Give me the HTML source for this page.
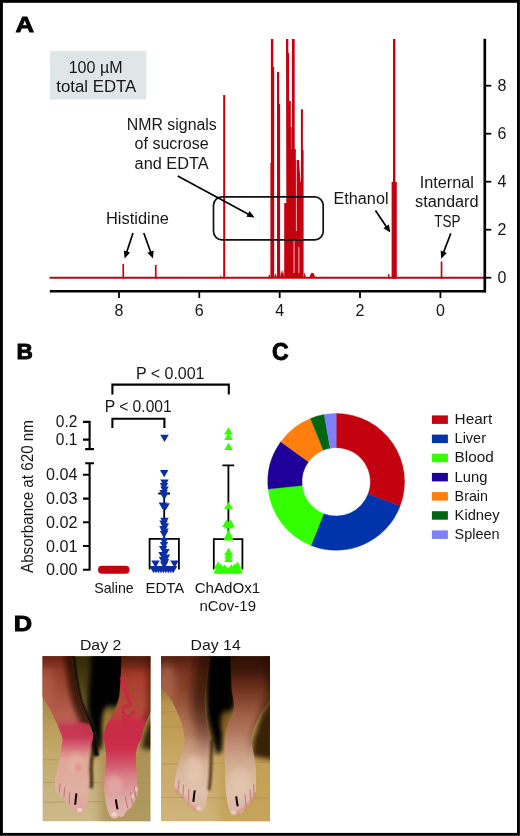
<!DOCTYPE html>
<html lang="en">
<head>
<meta charset="utf-8">
<title>Figure: EDTA in ChAdOx1 nCov-19 vaccine</title>
<style>
html,body{margin:0;padding:0;background:#fff;}
body{width:520px;height:836px;overflow:hidden;}
svg{display:block;font-family:'Liberation Sans', sans-serif;fill:#111;}
svg text{fill:#161616;}
</style>
</head>
<body>
<svg width="520" height="836" viewBox="0 0 520 836">
<rect x="0" y="0" width="520" height="836" fill="#fff"/>
<g opacity="0.999">
<text x="15.6" y="32.3" font-size="22.8" text-anchor="start" font-weight="bold" textLength="18.6" lengthAdjust="spacingAndGlyphs" stroke="#000" stroke-width="0.9" style="fill:#000">A</text>
<rect x="50" y="51" width="96.3" height="48.5" fill="#dfe6e8"/>
<text x="95.6" y="72.6" font-size="16" text-anchor="middle" font-weight="normal" textLength="53.8" lengthAdjust="spacingAndGlyphs">100 µM</text>
<text x="96.3" y="92.2" font-size="16" text-anchor="middle" font-weight="normal" textLength="80" lengthAdjust="spacingAndGlyphs">total EDTA</text>
<line x1="49.5" y1="277.7" x2="485" y2="277.7" stroke="#c4000f" stroke-width="1.9"/>
<rect x="122.4" y="264" width="1.70" height="14.50" fill="#c4000f"/>
<rect x="154.9" y="265" width="1.70" height="13.50" fill="#c4000f"/>
<rect x="223.2" y="95" width="2.00" height="183.50" fill="#c4000f"/>
<rect x="220.4" y="275.5" width="0.80" height="3.00" fill="#c4000f"/>
<polygon points="270.4,277.7 270.4,163 270.9,163 270.9,39 273.3,39 273.3,67 274.2,67 274.2,277.7" fill="#c4000f"/>
<polygon points="277.0,277.7 277.0,72 279.2,72 279.2,104 280.1,104 280.1,277.7" fill="#c4000f"/>
<polygon points="284.2,277.7 284.2,203 286.3,203 286.0,39 288.3,39 288.3,53 289.1,53 289.1,101 290.8,101 290.8,127 291.9,127 291.9,39 294.7,39 294.7,149 295.8,149 295.8,160 297.5,160 299.0,160 300.5,182 300.9,182 300.9,109.3 302.9,109.3 302.9,150 303.6,150 303.6,277.7" fill="#c4000f"/>
<rect x="295.9" y="160" width="0.9" height="71" fill="#fff" opacity="0.75"/>
<rect x="293.6" y="240" width="0.9" height="33" fill="#fff" opacity="0.8"/>
<rect x="298.4" y="247" width="0.9" height="26" fill="#fff" opacity="0.8"/>
<rect x="290.9" y="127" width="0.9" height="22" fill="#fff" opacity="0.35"/>
<polygon points="268,277.7 269.5,274 270.4,277.7" fill="#c4000f"/>
<polygon points="274.2,277.7 275.5,273 277,277.7" fill="#c4000f"/>
<polygon points="280.1,277.7 281,270 282,274 283,269.5 284.2,277.7" fill="#c4000f"/>
<polygon points="303.6,277.7 304.6,272 306,277.7" fill="#c4000f"/>
<polygon points="309.3,277.7 311,273.2 313.2,272.8 315.7,277.7" fill="#c4000f"/>
<rect x="393.0" y="39" width="2.40" height="239.50" fill="#c4000f"/>
<rect x="391.6" y="182" width="5.20" height="96.50" fill="#c4000f"/>
<rect x="388.0" y="274.3" width="1.50" height="4.20" fill="#c4000f"/>
<rect x="440.7" y="261.5" width="1.70" height="17.00" fill="#c4000f"/>
<rect x="213.5" y="196.8" width="109.7" height="43.1" rx="8.5" fill="none" stroke="#111" stroke-width="1.7"/>
<line x1="49.8" y1="291.2" x2="486" y2="291.2" stroke="#000" stroke-width="2.4"/>
<line x1="484.8" y1="38.8" x2="484.8" y2="292.4" stroke="#000" stroke-width="2.7"/>
<line x1="119.0" y1="291" x2="119.0" y2="298" stroke="#000" stroke-width="1.8"/>
<text x="119.0" y="316.4" font-size="16" text-anchor="middle" font-weight="normal">8</text>
<line x1="199.3" y1="291" x2="199.3" y2="298" stroke="#000" stroke-width="1.8"/>
<text x="199.3" y="316.4" font-size="16" text-anchor="middle" font-weight="normal">6</text>
<line x1="279.7" y1="291" x2="279.7" y2="298" stroke="#000" stroke-width="1.8"/>
<text x="279.7" y="316.4" font-size="16" text-anchor="middle" font-weight="normal">4</text>
<line x1="360.0" y1="291" x2="360.0" y2="298" stroke="#000" stroke-width="1.8"/>
<text x="360.0" y="316.4" font-size="16" text-anchor="middle" font-weight="normal">2</text>
<line x1="440.4" y1="291" x2="440.4" y2="298" stroke="#000" stroke-width="1.8"/>
<text x="440.4" y="316.4" font-size="16" text-anchor="middle" font-weight="normal">0</text>
<line x1="485" y1="277.7" x2="491.3" y2="277.7" stroke="#000" stroke-width="1.8"/>
<text x="502" y="283.3" font-size="16" text-anchor="middle" font-weight="normal">0</text>
<line x1="485" y1="229.7" x2="491.3" y2="229.7" stroke="#000" stroke-width="1.8"/>
<text x="502" y="235.3" font-size="16" text-anchor="middle" font-weight="normal">2</text>
<line x1="485" y1="181.7" x2="491.3" y2="181.7" stroke="#000" stroke-width="1.8"/>
<text x="502" y="187.3" font-size="16" text-anchor="middle" font-weight="normal">4</text>
<line x1="485" y1="133.7" x2="491.3" y2="133.7" stroke="#000" stroke-width="1.8"/>
<text x="502" y="139.3" font-size="16" text-anchor="middle" font-weight="normal">6</text>
<line x1="485" y1="85.7" x2="491.3" y2="85.7" stroke="#000" stroke-width="1.8"/>
<text x="502" y="91.3" font-size="16" text-anchor="middle" font-weight="normal">8</text>
<text x="171.8" y="129.8" font-size="16" text-anchor="middle" font-weight="normal" textLength="90" lengthAdjust="spacingAndGlyphs">NMR signals</text>
<text x="171.6" y="149.2" font-size="16" text-anchor="middle" font-weight="normal" textLength="74" lengthAdjust="spacingAndGlyphs">of sucrose</text>
<text x="171.6" y="168.6" font-size="16" text-anchor="middle" font-weight="normal" textLength="74" lengthAdjust="spacingAndGlyphs">and EDTA</text>
<line x1="177.7" y1="176.0" x2="248.9" y2="214.4" stroke="#000" stroke-width="1.7"/>
<polygon points="254.6,217.5 246.4,216.8 249.6,211.0" fill="#000"/>
<text x="137.5" y="224.4" font-size="16" text-anchor="middle" font-weight="normal" textLength="63" lengthAdjust="spacingAndGlyphs">Histidine</text>
<line x1="133.0" y1="233.0" x2="126.6" y2="252.4" stroke="#000" stroke-width="1.7"/>
<polygon points="124.6,258.6 123.8,250.4 130.1,252.5" fill="#000"/>
<line x1="143.8" y1="233.0" x2="150.8" y2="252.5" stroke="#000" stroke-width="1.7"/>
<polygon points="153.0,258.6 147.4,252.7 153.6,250.4" fill="#000"/>
<text x="361" y="204.2" font-size="16" text-anchor="middle" font-weight="normal" textLength="55" lengthAdjust="spacingAndGlyphs">Ethanol</text>
<line x1="375.5" y1="210.6" x2="386.7" y2="227.2" stroke="#000" stroke-width="1.7"/>
<polygon points="390.3,232.6 383.4,228.2 388.9,224.5" fill="#000"/>
<text x="446.8" y="187.7" font-size="16" text-anchor="middle" font-weight="normal" textLength="54.3" lengthAdjust="spacingAndGlyphs">Internal</text>
<text x="446.8" y="207" font-size="16" text-anchor="middle" font-weight="normal" textLength="63.5" lengthAdjust="spacingAndGlyphs">standard</text>
<text x="447.3" y="226.5" font-size="16" text-anchor="middle" font-weight="normal" textLength="26.3" lengthAdjust="spacingAndGlyphs">TSP</text>
<line x1="450.8" y1="233.4" x2="443.4" y2="252.7" stroke="#000" stroke-width="1.7"/>
<polygon points="441.1,258.8 440.7,250.6 446.9,253.0" fill="#000"/>
<text x="16.4" y="358.9" font-size="22.8" text-anchor="start" font-weight="bold" textLength="16.4" lengthAdjust="spacingAndGlyphs" stroke="#000" stroke-width="0.9" style="fill:#000">B</text>
<text transform="translate(33.2,573) rotate(-90)" font-size="16.5" text-anchor="start" textLength="153" lengthAdjust="spacingAndGlyphs">Absorbance at 620 nm</text>
<path d="M83 421.9H89.6V449.1M83 439.6H89.6M85.2 449.1H94" stroke="#000" stroke-width="2.1" fill="none"/>
<path d="M85.2 463.3H94M89.6 463.3V569.7M83 474.8H89.6M83 498.6H89.6M83 522.3H89.6M83 546H89.6M83 569.7H90.6" stroke="#000" stroke-width="2.1" fill="none"/>
<text x="77.4" y="427.2" font-size="16" text-anchor="end" font-weight="normal" textLength="21.6" lengthAdjust="spacingAndGlyphs">0.2</text>
<text x="77.4" y="445.2" font-size="16" text-anchor="end" font-weight="normal" textLength="21.6" lengthAdjust="spacingAndGlyphs">0.1</text>
<text x="77.4" y="480.4" font-size="16" text-anchor="end" font-weight="normal" textLength="31.4" lengthAdjust="spacingAndGlyphs">0.04</text>
<text x="77.4" y="504.1" font-size="16" text-anchor="end" font-weight="normal" textLength="31.4" lengthAdjust="spacingAndGlyphs">0.03</text>
<text x="77.4" y="527.8" font-size="16" text-anchor="end" font-weight="normal" textLength="31.4" lengthAdjust="spacingAndGlyphs">0.02</text>
<text x="77.4" y="551.6" font-size="16" text-anchor="end" font-weight="normal" textLength="31.4" lengthAdjust="spacingAndGlyphs">0.01</text>
<text x="77.4" y="575.3" font-size="16" text-anchor="end" font-weight="normal" textLength="31.4" lengthAdjust="spacingAndGlyphs">0.00</text>
<path d="M112.4 394.4V384.6H228.8V394.4" stroke="#000" stroke-width="2.1" fill="none"/>
<path d="M112.4 428V418.7H164.4V428" stroke="#000" stroke-width="2.1" fill="none"/>
<text x="170.2" y="379" font-size="16" text-anchor="middle" font-weight="normal" textLength="68.6" lengthAdjust="spacingAndGlyphs">P &lt; 0.001</text>
<text x="138.2" y="411.5" font-size="16" text-anchor="middle" font-weight="normal" textLength="67" lengthAdjust="spacingAndGlyphs">P &lt; 0.001</text>
<rect x="98" y="565.7" width="31.6" height="8" rx="4" fill="#c4000f"/>
<path d="M149.6 569.4V538.8H178.9V569.4M164.2 538.8V493.5M158.3 493.5H170" stroke="#000" stroke-width="1.8" fill="none"/>
<polygon points="160.2,434.8 168.8,434.8 164.5,442.1" fill="#0a2ea6"/>
<polygon points="159.9,470.0 168.4,470.0 164.2,477.3" fill="#0a2ea6"/>
<polygon points="160.2,479.4 168.7,479.4 164.4,486.7" fill="#0a2ea6"/>
<polygon points="159.8,483.0 168.2,483.0 164.0,490.3" fill="#0a2ea6"/>
<polygon points="160.3,486.6 168.8,486.6 164.6,493.9" fill="#0a2ea6"/>
<polygon points="159.3,490.0 167.8,490.0 163.6,497.3" fill="#0a2ea6"/>
<polygon points="159.9,492.7 168.4,492.7 164.2,500.0" fill="#0a2ea6"/>
<polygon points="158.6,502.5 167.1,502.5 162.8,509.8" fill="#0a2ea6"/>
<polygon points="161.3,503.2 169.8,503.2 165.6,510.5" fill="#0a2ea6"/>
<polygon points="160.2,517.8 168.7,517.8 164.4,525.1" fill="#0a2ea6"/>
<polygon points="159.3,520.6 167.8,520.6 163.6,527.9" fill="#0a2ea6"/>
<polygon points="160.6,523.2 169.1,523.2 164.8,530.5" fill="#0a2ea6"/>
<polygon points="159.2,526.0 167.7,526.0 163.4,533.3" fill="#0a2ea6"/>
<polygon points="160.3,528.4 168.8,528.4 164.6,535.7" fill="#0a2ea6"/>
<polygon points="159.8,531.0 168.2,531.0 164.0,538.3" fill="#0a2ea6"/>
<polygon points="159.9,538.0 168.4,538.0 164.2,545.3" fill="#0a2ea6"/>
<polygon points="159.8,542.0 168.2,542.0 164.0,549.3" fill="#0a2ea6"/>
<polygon points="158.9,546.0 167.4,546.0 163.2,553.3" fill="#0a2ea6"/>
<polygon points="161.2,549.0 169.7,549.0 165.4,556.3" fill="#0a2ea6"/>
<polygon points="158.3,552.0 166.8,552.0 162.6,559.3" fill="#0a2ea6"/>
<polygon points="161.8,554.5 170.2,554.5 166.0,561.8" fill="#0a2ea6"/>
<polygon points="158.8,557.0 167.2,557.0 163.0,564.3" fill="#0a2ea6"/>
<polygon points="160.8,559.0 169.2,559.0 165.0,566.3" fill="#0a2ea6"/>
<polygon points="151.3,560.4 159.8,560.4 155.6,567.7" fill="#0a2ea6"/>
<polygon points="159.9,561.5 168.4,561.5 164.2,568.8" fill="#0a2ea6"/>
<polygon points="170.3,560.4 178.8,560.4 174.6,567.7" fill="#0a2ea6"/>
<polygon points="149.3,566.0 157.8,566.0 153.6,573.3" fill="#0a2ea6"/>
<polygon points="151.8,566.0 160.3,566.0 156.0,573.3" fill="#0a2ea6"/>
<polygon points="154.2,566.0 162.7,566.0 158.5,573.3" fill="#0a2ea6"/>
<polygon points="156.7,566.0 165.2,566.0 160.9,573.3" fill="#0a2ea6"/>
<polygon points="159.1,566.0 167.6,566.0 163.4,573.3" fill="#0a2ea6"/>
<polygon points="161.6,566.0 170.1,566.0 165.8,573.3" fill="#0a2ea6"/>
<polygon points="164.0,566.0 172.5,566.0 168.3,573.3" fill="#0a2ea6"/>
<polygon points="166.5,566.0 175.0,566.0 170.7,573.3" fill="#0a2ea6"/>
<polygon points="168.9,566.0 177.4,566.0 173.2,573.3" fill="#0a2ea6"/>
<path d="M213.8 569.4V539.2H242.4V569.4M228.4 539.2V465.3M222.4 465.3H234.2" stroke="#000" stroke-width="1.8" fill="none"/>
<polygon points="224.2,434.6 232.8,434.6 228.5,427.3" fill="#33ff00"/>
<polygon points="224.2,440.1 232.8,440.1 228.5,432.8" fill="#33ff00"/>
<polygon points="224.2,450.1 232.8,450.1 228.5,442.8" fill="#33ff00"/>
<polygon points="224.2,509.1 232.8,509.1 228.5,501.8" fill="#33ff00"/>
<polygon points="222.2,526.9 230.7,526.9 226.4,519.6" fill="#33ff00"/>
<polygon points="226.3,526.9 234.8,526.9 230.6,519.6" fill="#33ff00"/>
<polygon points="224.2,528.5 232.8,528.5 228.5,521.2" fill="#33ff00"/>
<polygon points="224.2,555.0 232.8,555.0 228.5,547.7" fill="#33ff00"/>
<polygon points="224.2,558.5 232.8,558.5 228.5,551.2" fill="#33ff00"/>
<polygon points="224.2,562.1 232.8,562.1 228.5,554.8" fill="#33ff00"/>
<polygon points="213.8,568.8 222.2,568.8 218.0,561.5" fill="#33ff00"/>
<polygon points="233.2,568.8 241.7,568.8 237.4,561.5" fill="#33ff00"/>
<polygon points="216.8,570.7 225.2,570.7 221.0,563.4" fill="#33ff00"/>
<polygon points="230.3,570.7 238.8,570.7 234.6,563.4" fill="#33ff00"/>
<polygon points="220.2,571.5 228.8,571.5 224.5,564.2" fill="#33ff00"/>
<polygon points="227.2,571.5 235.8,571.5 231.5,564.2" fill="#33ff00"/>
<polygon points="223.3,540.6 233.7,540.6 228.5,529.2" fill="#33ff00"/>
<polygon points="213.3,573.5 221.8,573.5 217.6,566.2" fill="#33ff00"/>
<polygon points="215.7,573.5 224.2,573.5 219.9,566.2" fill="#33ff00"/>
<polygon points="218.0,573.5 226.5,573.5 222.3,566.2" fill="#33ff00"/>
<polygon points="220.4,573.5 228.9,573.5 224.6,566.2" fill="#33ff00"/>
<polygon points="222.7,573.5 231.2,573.5 227.0,566.2" fill="#33ff00"/>
<polygon points="225.1,573.5 233.6,573.5 229.3,566.2" fill="#33ff00"/>
<polygon points="227.4,573.5 235.9,573.5 231.7,566.2" fill="#33ff00"/>
<polygon points="229.8,573.5 238.3,573.5 234.0,566.2" fill="#33ff00"/>
<polygon points="232.1,573.5 240.6,573.5 236.4,566.2" fill="#33ff00"/>
<polygon points="234.5,573.5 243.0,573.5 238.7,566.2" fill="#33ff00"/>
<text x="114" y="592.6" font-size="15" text-anchor="middle" font-weight="normal" textLength="39.6" lengthAdjust="spacingAndGlyphs">Saline</text>
<text x="164.9" y="592.6" font-size="15" text-anchor="middle" font-weight="normal" textLength="39" lengthAdjust="spacingAndGlyphs">EDTA</text>
<text x="227.5" y="592.6" font-size="15" text-anchor="middle" font-weight="normal" textLength="65.6" lengthAdjust="spacingAndGlyphs">ChAdOx1</text>
<text x="227.7" y="610.9" font-size="15" text-anchor="middle" font-weight="normal" textLength="56.6" lengthAdjust="spacingAndGlyphs">nCov-19</text>
<text x="272" y="360.2" font-size="23.6" text-anchor="start" font-weight="bold" textLength="16.6" lengthAdjust="spacingAndGlyphs" stroke="#000" stroke-width="0.9" style="fill:#000">C</text>
<path d="M336.15 413.45A68.4 68.4 0 0 1 400.01 506.36L368.08 494.11A34.2 34.2 0 0 0 336.15 447.65Z" fill="#c4000f" stroke="#c4000f" stroke-width="0.4"/>
<path d="M400.01 506.36A68.4 68.4 0 0 1 310.97 545.45L323.56 513.65A34.2 34.2 0 0 0 368.08 494.11Z" fill="#0033aa" stroke="#0033aa" stroke-width="0.4"/>
<path d="M310.97 545.45A68.4 68.4 0 0 1 268.12 489.00L302.14 485.42A34.2 34.2 0 0 0 323.56 513.65Z" fill="#33ff00" stroke="#33ff00" stroke-width="0.4"/>
<path d="M268.12 489.00A68.4 68.4 0 0 1 280.81 441.65L308.48 461.75A34.2 34.2 0 0 0 302.14 485.42Z" fill="#1f0099" stroke="#1f0099" stroke-width="0.4"/>
<path d="M280.81 441.65A68.4 68.4 0 0 1 310.53 418.43L323.34 450.14A34.2 34.2 0 0 0 308.48 461.75Z" fill="#ff7f0e" stroke="#ff7f0e" stroke-width="0.4"/>
<path d="M310.53 418.43A68.4 68.4 0 0 1 324.27 414.49L330.21 448.17A34.2 34.2 0 0 0 323.34 450.14Z" fill="#006611" stroke="#006611" stroke-width="0.4"/>
<path d="M324.27 414.49A68.4 68.4 0 0 1 336.15 413.45L336.15 447.65A34.2 34.2 0 0 0 330.21 448.17Z" fill="#8080ff" stroke="#8080ff" stroke-width="0.4"/>
<rect x="431.9" y="415.4" width="16" height="8.5" fill="#c4000f"/>
<text x="454.6" y="424.0" font-size="15" text-anchor="start" font-weight="normal" textLength="37.6" lengthAdjust="spacingAndGlyphs">Heart</text>
<rect x="431.9" y="434.6" width="16" height="8.5" fill="#0033aa"/>
<text x="454.6" y="443.2" font-size="15" text-anchor="start" font-weight="normal" textLength="31.4" lengthAdjust="spacingAndGlyphs">Liver</text>
<rect x="431.9" y="453.7" width="16" height="8.5" fill="#33ff00"/>
<text x="454.6" y="462.3" font-size="15" text-anchor="start" font-weight="normal" textLength="39.2" lengthAdjust="spacingAndGlyphs">Blood</text>
<rect x="431.9" y="472.9" width="16" height="8.5" fill="#1f0099"/>
<text x="454.6" y="481.5" font-size="15" text-anchor="start" font-weight="normal" textLength="32.8" lengthAdjust="spacingAndGlyphs">Lung</text>
<rect x="431.9" y="492.1" width="16" height="8.5" fill="#ff7f0e"/>
<text x="454.6" y="500.7" font-size="15" text-anchor="start" font-weight="normal" textLength="33.4" lengthAdjust="spacingAndGlyphs">Brain</text>
<rect x="431.9" y="511.2" width="16" height="8.5" fill="#006611"/>
<text x="454.6" y="519.9" font-size="15" text-anchor="start" font-weight="normal" textLength="44.9" lengthAdjust="spacingAndGlyphs">Kidney</text>
<rect x="431.9" y="530.4" width="16" height="8.5" fill="#8080ff"/>
<text x="454.6" y="539.0" font-size="15" text-anchor="start" font-weight="normal" textLength="44.9" lengthAdjust="spacingAndGlyphs">Spleen</text>
<text x="13.8" y="630.6" font-size="22.8" text-anchor="start" font-weight="bold" textLength="18.4" lengthAdjust="spacingAndGlyphs" stroke="#000" stroke-width="0.9" style="fill:#000">D</text>
<text x="100.6" y="650" font-size="15.5" text-anchor="middle" font-weight="normal" textLength="41.4" lengthAdjust="spacingAndGlyphs">Day 2</text>
<text x="215.6" y="649.6" font-size="15.5" text-anchor="middle" font-weight="normal" textLength="50.2" lengthAdjust="spacingAndGlyphs">Day 14</text>
<defs>
<clipPath id="cp1"><rect x="0" y="0" width="107.8" height="165"/></clipPath>
<clipPath id="cp2"><rect x="0" y="0" width="109" height="165"/></clipPath>
<filter id="b0" filterUnits="userSpaceOnUse" x="-40" y="-40" width="200" height="260"><feGaussianBlur stdDeviation="0.7"/></filter>
<filter id="b1" filterUnits="userSpaceOnUse" x="-40" y="-40" width="200" height="260"><feGaussianBlur stdDeviation="1.2"/></filter>
<filter id="b2" filterUnits="userSpaceOnUse" x="-40" y="-40" width="200" height="260"><feGaussianBlur stdDeviation="2.4"/></filter>
<filter id="b4" filterUnits="userSpaceOnUse" x="-40" y="-40" width="200" height="260"><feGaussianBlur stdDeviation="4"/></filter>
<filter id="b7" filterUnits="userSpaceOnUse" x="-40" y="-40" width="200" height="260"><feGaussianBlur stdDeviation="7"/></filter>
<linearGradient id="fl1" x1="0" y1="0" x2="0" y2="1"><stop offset="0" stop-color="#46340e"/><stop offset="0.2" stop-color="#806628"/><stop offset="0.3" stop-color="#a88c48"/><stop offset="0.42" stop-color="#b89c58"/><stop offset="0.6" stop-color="#c4aa6c"/><stop offset="0.8" stop-color="#c8b480"/><stop offset="1" stop-color="#ccba8c"/></linearGradient>
<linearGradient id="fl2" x1="0" y1="0" x2="0" y2="1"><stop offset="0" stop-color="#5a3c10"/><stop offset="0.18" stop-color="#90692a"/><stop offset="0.3" stop-color="#b8944c"/><stop offset="0.5" stop-color="#c4a058"/><stop offset="0.62" stop-color="#caa968"/><stop offset="1" stop-color="#d0b47c"/></linearGradient>
<linearGradient id="lg1" x1="0" y1="0" x2="0" y2="1"><stop offset="0" stop-color="#8a3022"/><stop offset="0.4" stop-color="#a04a34"/><stop offset="0.7" stop-color="#b86050"/><stop offset="0.85" stop-color="#c04a58"/><stop offset="1" stop-color="#c83552"/></linearGradient>
<linearGradient id="lg1r" x1="0" y1="0" x2="0" y2="1"><stop offset="0" stop-color="#7a281a"/><stop offset="0.3" stop-color="#a83c2a"/><stop offset="0.62" stop-color="#b44a38"/><stop offset="0.8" stop-color="#c43a48"/><stop offset="1" stop-color="#cc2c48"/></linearGradient>
<linearGradient id="ft1" x1="0" y1="0" x2="0" y2="1">
 <stop offset="0" stop-color="#cf3f5a"/><stop offset="0.13" stop-color="#d8727c"/>
 <stop offset="0.3" stop-color="#dfa698"/><stop offset="0.7" stop-color="#e0b0a2"/><stop offset="1" stop-color="#dca89c"/></linearGradient>
<linearGradient id="ft1r" x1="0" y1="0" x2="0" y2="1">
 <stop offset="0" stop-color="#cc2a48"/><stop offset="0.25" stop-color="#d2566a"/>
 <stop offset="0.5" stop-color="#d88488"/><stop offset="0.75" stop-color="#dea8a2"/><stop offset="1" stop-color="#e2b8b0"/></linearGradient>
<linearGradient id="lg2" x1="0" y1="0" x2="0" y2="1"><stop offset="0" stop-color="#6a2816"/><stop offset="0.4" stop-color="#8a422a"/><stop offset="0.75" stop-color="#ac6e52"/><stop offset="1" stop-color="#be8a6e"/></linearGradient>
<linearGradient id="lg2r" x1="0" y1="0" x2="0" y2="1"><stop offset="0" stop-color="#3c1409"/><stop offset="0.4" stop-color="#6e301c"/><stop offset="0.7" stop-color="#a06048"/><stop offset="1" stop-color="#bc866c"/></linearGradient>
<linearGradient id="ft2r" x1="0" y1="0" x2="0" y2="1"><stop offset="0" stop-color="#b87f66"/><stop offset="0.12" stop-color="#c29078"/><stop offset="0.34" stop-color="#d2ac90"/><stop offset="0.7" stop-color="#dfc2ac"/><stop offset="1" stop-color="#dcb4a6"/></linearGradient>
<linearGradient id="ft2" x1="0" y1="0" x2="0" y2="1"><stop offset="0" stop-color="#bc866c"/><stop offset="0.12" stop-color="#c6967c"/><stop offset="0.32" stop-color="#d4ae92"/><stop offset="0.7" stop-color="#dfc2ac"/><stop offset="1" stop-color="#dcb4a6"/></linearGradient>
<linearGradient id="rsL" gradientUnits="userSpaceOnUse" x1="0" y1="64" x2="0" y2="96">
 <stop offset="0" stop-color="#c63652" stop-opacity="0.95"/><stop offset="0.5" stop-color="#c83853" stop-opacity="0.9"/>
 <stop offset="0.75" stop-color="#d0506a" stop-opacity="0.55"/><stop offset="1" stop-color="#d6687a" stop-opacity="0"/></linearGradient>
<linearGradient id="rsR" gradientUnits="userSpaceOnUse" x1="0" y1="58" x2="0" y2="120">
 <stop offset="0" stop-color="#c82a46" stop-opacity="0.96"/><stop offset="0.55" stop-color="#cc2c49" stop-opacity="0.92"/>
 <stop offset="0.8" stop-color="#d04860" stop-opacity="0.5"/><stop offset="1" stop-color="#d6607a" stop-opacity="0"/></linearGradient>
<linearGradient id="sh2" gradientUnits="userSpaceOnUse" x1="0" y1="0" x2="0" y2="104">
 <stop offset="0" stop-color="#260a03" stop-opacity="1"/><stop offset="0.5" stop-color="#260a03" stop-opacity="0.85"/>
 <stop offset="1" stop-color="#260a03" stop-opacity="0"/></linearGradient>
</defs>
<g transform="translate(42.6,656.3)" clip-path="url(#cp1)">
<rect x="-4" y="-4" width="116" height="173" fill="url(#fl1)"/>
<rect x="57" y="62" width="62" height="116" fill="#9a8040" opacity="0.55" filter="url(#b4)"/>
<g opacity="0.45" filter="url(#b0)" stroke="#9c8a58" stroke-width="1"><line x1="-2" y1="103.6" x2="110" y2="102"/><line x1="-2" y1="126" x2="110" y2="127"/><line x1="-2" y1="146" x2="110" y2="144.6"/><line x1="-2" y1="62" x2="24" y2="61"/></g>
<path d="M26 -8H84L80 44L66 70L58 60L56 84L48 84L40 56Z" fill="#1c1205" opacity="0.5" filter="url(#b4)"/>
<path d="M49 -6H82L80 38C77 50 70 54 65 48C61 58 60.4 74 59 93L54 94C52.6 84 50 72 47 62C43 48 47.6 30 49 -6Z" fill="#030100" filter="url(#b2)"/>
<path d="M29 -4C31 16 33 30 37 44C41 56 47 68 50 78L54 100" stroke="#040100" stroke-width="5.4" fill="none" filter="url(#b1)"/>
<ellipse cx="64.5" cy="66" rx="4.6" ry="14" fill="#a88832" opacity="0.8" filter="url(#b2)"/>
<path d="M112 52L101 80L99 92L112 94Z" fill="#1c1004" opacity="0.85" filter="url(#b2)"/>
<g filter="url(#b0)">
<path d="M-3 -3H30C32 16 34 30 38 44C42 56 48 68 50.5 78L50 86H20L20.5 83C19 78 15 68 9 56C5 48 1 42 -3 38Z" fill="url(#lg1)"/>
<path d="M79 -3C78.4 14 78 28 76.6 40C75 50 70 58 65 66C62 72 61 78 61.4 86H97L99.4 78C100 74 103 66 108 56L111 52V-3Z" fill="url(#lg1r)"/>
</g>
<clipPath id="cL1"><path d="M-3 -3H30C32 16 34 30 38 44C42 56 48 68 50.5 78L50 86H20L20.5 83C19 78 15 68 9 56C5 48 1 42 -3 38Z"/><path d="M20.5 80C19.6 88 17.6 98 16 108C14.4 114 13 119 12.6 124C12.2 128 12 131 12.6 133.6C13.4 136.6 15.6 137 16.6 136C17 140 19.4 142.6 21.4 141.4C22 146 24.4 149.6 26.6 148.4C27.2 152.6 29.6 155.4 32 154.4C33.6 158 39 158.6 41.4 155C44 151 45.2 147 45.4 143C46 136 47.2 129 47.2 123C46.6 117 46 112 46.2 108C46.6 99 48.6 90 50.4 80Z"/></clipPath><clipPath id="cR1"><path d="M79 -3C78.4 14 78 28 76.6 40C75 50 70 58 65 66C62 72 61 78 61.4 86H97L99.4 78C100 74 103 66 108 56L111 52V-3Z"/><path d="M61.2 80C62.4 88 63.8 97 63.6 103C63 112 61.4 122 61.4 130C61.6 136 62.4 141 63.2 146C64.4 152 66 158 68.4 160.6C70.6 163 74.6 162.6 76.4 159.6C77.6 161.4 81 161 82 158C83.4 156.4 84.6 154.6 85.4 153C87.4 153.4 89.6 150.6 90 147C91.6 146.6 93 144 93.2 141C95 139.6 96 137 95.6 133C95 129 94.4 127 94.4 124.8C94 115 93 106 93.2 98C93.6 92 96 86 98.6 80Z"/></clipPath>
<g clip-path="url(#cL1)"><path d="M30 -4C32 16 34 30 38 44C42 56 48 68 51 78" stroke="#240803" stroke-width="17" fill="none" opacity="0.78" filter="url(#b2)"/><ellipse cx="3" cy="32" rx="9" ry="22" fill="#b8685a" opacity="0.55" filter="url(#b4)"/><rect x="-8" y="-10" width="48" height="18" fill="#2e0e06" opacity="0.35" filter="url(#b4)"/></g>
<g clip-path="url(#cR1)"><path d="M109 -4V50L100 84" stroke="#300c06" stroke-width="9" fill="none" opacity="0.45" filter="url(#b2)"/><rect x="70" y="-10" width="48" height="20" fill="#240803" opacity="0.45" filter="url(#b4)"/><ellipse cx="93" cy="32" rx="6" ry="16" fill="#b04c3a" opacity="0.4" filter="url(#b4)"/></g>
<g filter="url(#b0)">
<path d="M20.5 80C19.6 88 17.6 98 16 108C14.4 114 13 119 12.6 124C12.2 128 12 131 12.6 133.6C13.4 136.6 15.6 137 16.6 136C17 140 19.4 142.6 21.4 141.4C22 146 24.4 149.6 26.6 148.4C27.2 152.6 29.6 155.4 32 154.4C33.6 158 39 158.6 41.4 155C44 151 45.2 147 45.4 143C46 136 47.2 129 47.2 123C46.6 117 46 112 46.2 108C46.6 99 48.6 90 50.4 80Z" fill="url(#ft1)"/>
<path d="M61.2 80C62.4 88 63.8 97 63.6 103C63 112 61.4 122 61.4 130C61.6 136 62.4 141 63.2 146C64.4 152 66 158 68.4 160.6C70.6 163 74.6 162.6 76.4 159.6C77.6 161.4 81 161 82 158C83.4 156.4 84.6 154.6 85.4 153C87.4 153.4 89.6 150.6 90 147C91.6 146.6 93 144 93.2 141C95 139.6 96 137 95.6 133C95 129 94.4 127 94.4 124.8C94 115 93 106 93.2 98C93.6 92 96 86 98.6 80Z" fill="url(#ft1r)"/>
</g>
<g clip-path="url(#cL1)"><path d="M12 73C20 65 28 70 35 67C42 65 47 68 56 72V106H12Z" fill="url(#rsL)" filter="url(#b1)"/></g>
<g clip-path="url(#cR1)"><path d="M56 76C64 66 72 61 78 66C84 59 93 61 106 66V122H56Z" fill="url(#rsR)" filter="url(#b1)"/></g>
<g fill="none" stroke="#c62c44" stroke-linecap="round" stroke-linejoin="round" filter="url(#b0)"><path d="M79.6 22C81.6 30 84 38 86.6 45" stroke-width="3.8"/><path d="M86.6 45C88.6 47 88 50 85 50C81.6 49 79.4 52 80.6 56C82 60 86 61.6 88.4 58.6C89.6 56 91 55 91.6 57.4" stroke-width="3"/><path d="M81 60C80 64 81 67 83 70" stroke-width="3"/></g>
<path d="M51.6 84C50 96 48.4 106 48.6 114C49 120 49.4 126 48.6 132" stroke="#2a1606" stroke-width="3.4" fill="none" opacity="0.8" filter="url(#b1)"/>
<ellipse cx="33" cy="108" rx="7" ry="11" fill="#e6b2a4" opacity="0.75" filter="url(#b2)"/>
<ellipse cx="35.6" cy="111" rx="4" ry="4.6" fill="#e58a92" opacity="0.6" filter="url(#b1)"/>
<ellipse cx="72" cy="128" rx="8" ry="9" fill="#e4b4aa" opacity="0.6" filter="url(#b2)"/>
<g stroke="#b86a68" stroke-width="1" fill="none" opacity="0.8" filter="url(#b0)"><path d="M17.4 127L16.8 136M22 131L21.4 141M27 136L26.6 148"/><path d="M92 131L93 141M88 136L90 147M82.6 140L85.2 152"/></g>
<path d="M33.8 137C33.4 141 32.8 145 32.6 148.4" stroke="#100604" stroke-width="2" fill="none" filter="url(#b0)"/>
<path d="M73.2 143C73.6 146 74.2 150 75 153" stroke="#100604" stroke-width="2" fill="none" filter="url(#b0)"/>
<g fill="#f0dcd4" opacity="0.85" filter="url(#b0)"><ellipse cx="37" cy="153.6" rx="2.6" ry="2"/><ellipse cx="71.6" cy="158" rx="2.6" ry="2"/><ellipse cx="93.6" cy="133" rx="1.2" ry="2.4"/><ellipse cx="90" cy="140" rx="1.2" ry="2.4"/></g>
</g>
<g transform="translate(161,656.3)" clip-path="url(#cp2)">
<rect x="-4" y="-4" width="117" height="173" fill="url(#fl2)"/>
<rect x="58" y="76" width="62" height="104" fill="#c09a48" opacity="0.6" filter="url(#b4)"/>
<g opacity="0.45" filter="url(#b0)" stroke="#a08548" stroke-width="1"><line x1="-2" y1="56" x2="24" y2="55"/><line x1="-2" y1="71" x2="112" y2="69"/><line x1="-2" y1="108" x2="112" y2="106"/><line x1="-2" y1="141" x2="112" y2="142"/></g>
<path d="M40 -8H78L76 50L66 72L60 66L58 90L50 90L44 60Z" fill="#1c1004" opacity="0.6" filter="url(#b4)"/>
<path d="M48 -6H71.6L72.6 34C74.6 44 73.6 52 69 55C64.6 51 62.6 60 62 74L60.6 96L55 98C53.6 86 50.6 76 48 66C44.6 50 46 30 48 -6Z" fill="#040100" filter="url(#b2)"/>
<ellipse cx="63.6" cy="66" rx="4" ry="11" fill="#94651c" opacity="0.75" filter="url(#b2)"/>
<path d="M113 36L101 56L92 84L91 100L113 104Z" fill="#2a1804" opacity="0.9" filter="url(#b2)"/>
<g filter="url(#b0)">
<path d="M-3 -3H49.6C48 8 46.6 16 46.2 22C44.6 30 43.6 38 43.8 44C44 52 44.8 60 45.6 66C46.6 72 48 78 49.8 86H24.4C23.6 82 23 78 22 72C20 64 16 54 11 45C7 38 2 32 -3 28Z" fill="url(#lg2)"/>
<path d="M69.4 -3C70 10 70.2 22 70.6 33C71.4 40 73.4 46 73.2 50C72.6 56 71 60 69.6 63C67 68 65 74 63.8 86H89C90 80 92.6 72 96 65C98 60 100 56 101.4 54.6L112 40V-3Z" fill="url(#lg2r)"/>
</g>
<g filter="url(#b0)">
<path d="M24.8 80C22 92 19 102 17 110C15.4 116 14 122 13.6 126C13.2 129 13.6 132 15 133.4C16 134 17 133.6 17.6 133C18 137.6 20 140.6 22.4 139.4C23 144 25.4 147 27.8 145.8C28.4 150 31 153 33.4 152C35 156.6 40.4 157.4 42.6 153.4C44.6 150 45.6 146 46 142C46.8 136 47.6 131 48 126C49 114 49.8 98 49.2 80Z" fill="url(#ft2)"/>
<path d="M64.2 80C63.4 94 63.6 104 64 112C64.2 122 64.4 132 65.4 140C66.2 146 67.4 152 69 156C71 160.4 76 160 77.6 156C78.4 157.6 81.6 157.4 82.6 154.6C83.6 153 84.4 151 84.8 149.6C87 150 89.4 147.4 89.6 144C91.4 143.6 92.8 141 92.8 138.4C94.6 137 95.4 134 94.8 130.6C95.4 124 95.2 116 94.8 111C93.6 100 91 90 89.6 80Z" fill="url(#ft2r)"/>
</g>
<clipPath id="cL2"><path d="M-3 -3H49.6C48 8 46.6 16 46.2 22C44.6 30 43.6 38 43.8 44C44 52 44.8 60 45.6 66C46.6 72 48 78 49.8 86H24.4C23.6 82 23 78 22 72C20 64 16 54 11 45C7 38 2 32 -3 28Z"/><path d="M24.8 80C22 92 19 102 17 110C15.4 116 14 122 13.6 126C13.2 129 13.6 132 15 133.4C16 134 17 133.6 17.6 133C18 137.6 20 140.6 22.4 139.4C23 144 25.4 147 27.8 145.8C28.4 150 31 153 33.4 152C35 156.6 40.4 157.4 42.6 153.4C44.6 150 45.6 146 46 142C46.8 136 47.6 131 48 126C49 114 49.8 98 49.2 80Z"/></clipPath><clipPath id="cR2"><path d="M69.4 -3C70 10 70.2 22 70.6 33C71.4 40 73.4 46 73.2 50C72.6 56 71 60 69.6 63C67 68 65 74 63.8 86H89C90 80 92.6 72 96 65C98 60 100 56 101.4 54.6L112 40V-3Z"/><path d="M64.2 80C63.4 94 63.6 104 64 112C64.2 122 64.4 132 65.4 140C66.2 146 67.4 152 69 156C71 160.4 76 160 77.6 156C78.4 157.6 81.6 157.4 82.6 154.6C83.6 153 84.4 151 84.8 149.6C87 150 89.4 147.4 89.6 144C91.4 143.6 92.8 141 92.8 138.4C94.6 137 95.4 134 94.8 130.6C95.4 124 95.2 116 94.8 111C93.6 100 91 90 89.6 80Z"/></clipPath>
<g clip-path="url(#cL2)"><path d="M50 -4C47 12 44 30 44 44C44 56 46 70 50 88L49 112" stroke="url(#sh2)" stroke-width="27" fill="none" opacity="0.72" filter="url(#b4)"/><ellipse cx="5" cy="28" rx="10" ry="22" fill="#b8765c" opacity="0.6" filter="url(#b4)"/><rect x="-8" y="-10" width="66" height="18" fill="#2c0f07" opacity="0.35" filter="url(#b4)"/></g>
<g clip-path="url(#cR2)"><path d="M111 -4V40L93 84L95 112" stroke="url(#sh2)" stroke-width="12" fill="none" opacity="0.55" filter="url(#b2)"/><rect x="62" y="-10" width="56" height="30" fill="#1e0803" opacity="0.45" filter="url(#b4)"/></g>
<path d="M50.8 84C50.4 98 50 110 49.4 120C49 126 48.6 130 48 134" stroke="#2e1a06" stroke-width="3" fill="none" opacity="0.75" filter="url(#b1)"/>
<ellipse cx="33" cy="114" rx="9" ry="14" fill="#e6ceb8" opacity="0.6" filter="url(#b2)"/>
<ellipse cx="79" cy="124" rx="10" ry="12" fill="#e4cab4" opacity="0.6" filter="url(#b2)"/>
<g stroke="#c4727a" stroke-width="1.1" fill="none" opacity="0.85" filter="url(#b0)"><path d="M18 124L17.4 133M22.6 128L22.2 139M27.8 133L27.6 145"/><path d="M92.6 128L93 138M89 133L89.8 144M84 138L85 149.6"/></g>
<path d="M14.6 132L18 137L22.8 141.6L28.2 147.6L36 154" stroke="#d07a82" stroke-width="2.4" fill="none" opacity="0.55" filter="url(#b1)"/>
<path d="M72 157.6L80 154L87 148L91.2 142L94 136" stroke="#d07a82" stroke-width="2.4" fill="none" opacity="0.55" filter="url(#b1)"/>
<path d="M33.8 134C33.2 138 32.6 142 32.4 145.6" stroke="#100604" stroke-width="2" fill="none" filter="url(#b0)"/>
<path d="M75.2 140C75.6 143.6 76 147 76.8 150" stroke="#100604" stroke-width="2" fill="none" filter="url(#b0)"/>
<g fill="#ecd6cc" opacity="0.8" filter="url(#b0)"><ellipse cx="37.6" cy="152" rx="2.6" ry="2"/><ellipse cx="72.6" cy="156" rx="2.6" ry="2"/></g>
</g>
</g>
<rect x="1.45" y="1.35" width="517" height="833" fill="none" stroke="#000" stroke-width="2.9"/>
</svg>
</body>
</html>
